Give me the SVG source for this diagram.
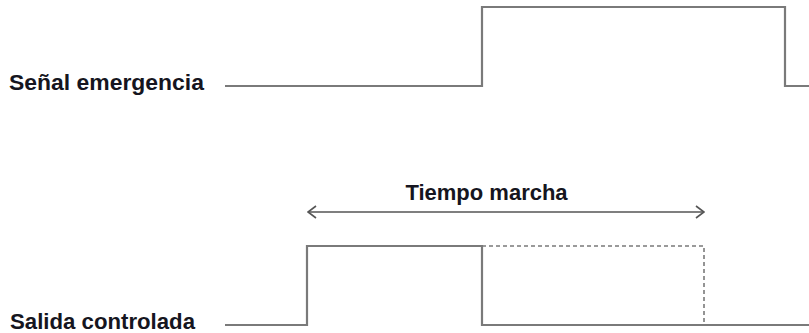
<svg xmlns="http://www.w3.org/2000/svg" width="809" height="333" viewBox="0 0 809 333">
<style>
.lbl{font-family:"Liberation Sans",Arial,sans-serif;font-weight:bold;font-size:22px;fill:#151520}
.sig{fill:none;stroke:#7a7a7a;stroke-width:2.2}
.dash{fill:none;stroke:#7a7a7a;stroke-width:1.6;stroke-dasharray:4 3}
.arr{fill:none;stroke:#555;stroke-width:1.5}
</style>
<defs>
<marker id="chev" viewBox="0 0 10 14" refX="9" refY="7" markerWidth="10" markerHeight="14" markerUnits="userSpaceOnUse" orient="auto-start-reverse">
<path d="M1,1 L9,7 L1,13" fill="none" stroke="#555" stroke-width="1.6"/>
</marker>
</defs>
<g id="senal">
<text class="lbl" x="9" y="90" textLength="195" lengthAdjust="spacingAndGlyphs">Señal emergencia</text>
<path class="sig" d="M225,86 H482 V7 H785 V86 H809"/>
</g>
<g id="salida">
<text class="lbl" x="10" y="329" textLength="185" lengthAdjust="spacingAndGlyphs">Salida controlada</text>
<path class="sig" d="M225,325 H307 V246 H482 V325 H809"/>
<path class="dash" d="M482,246 H704 V325"/>
</g>
<g id="connectors">
<line class="arr" x1="308" y1="212" x2="704" y2="212" marker-start="url(#chev)" marker-end="url(#chev)"/>
<text class="lbl" x="486.5" y="200" text-anchor="middle">Tiempo marcha</text>
</g>
</svg>
